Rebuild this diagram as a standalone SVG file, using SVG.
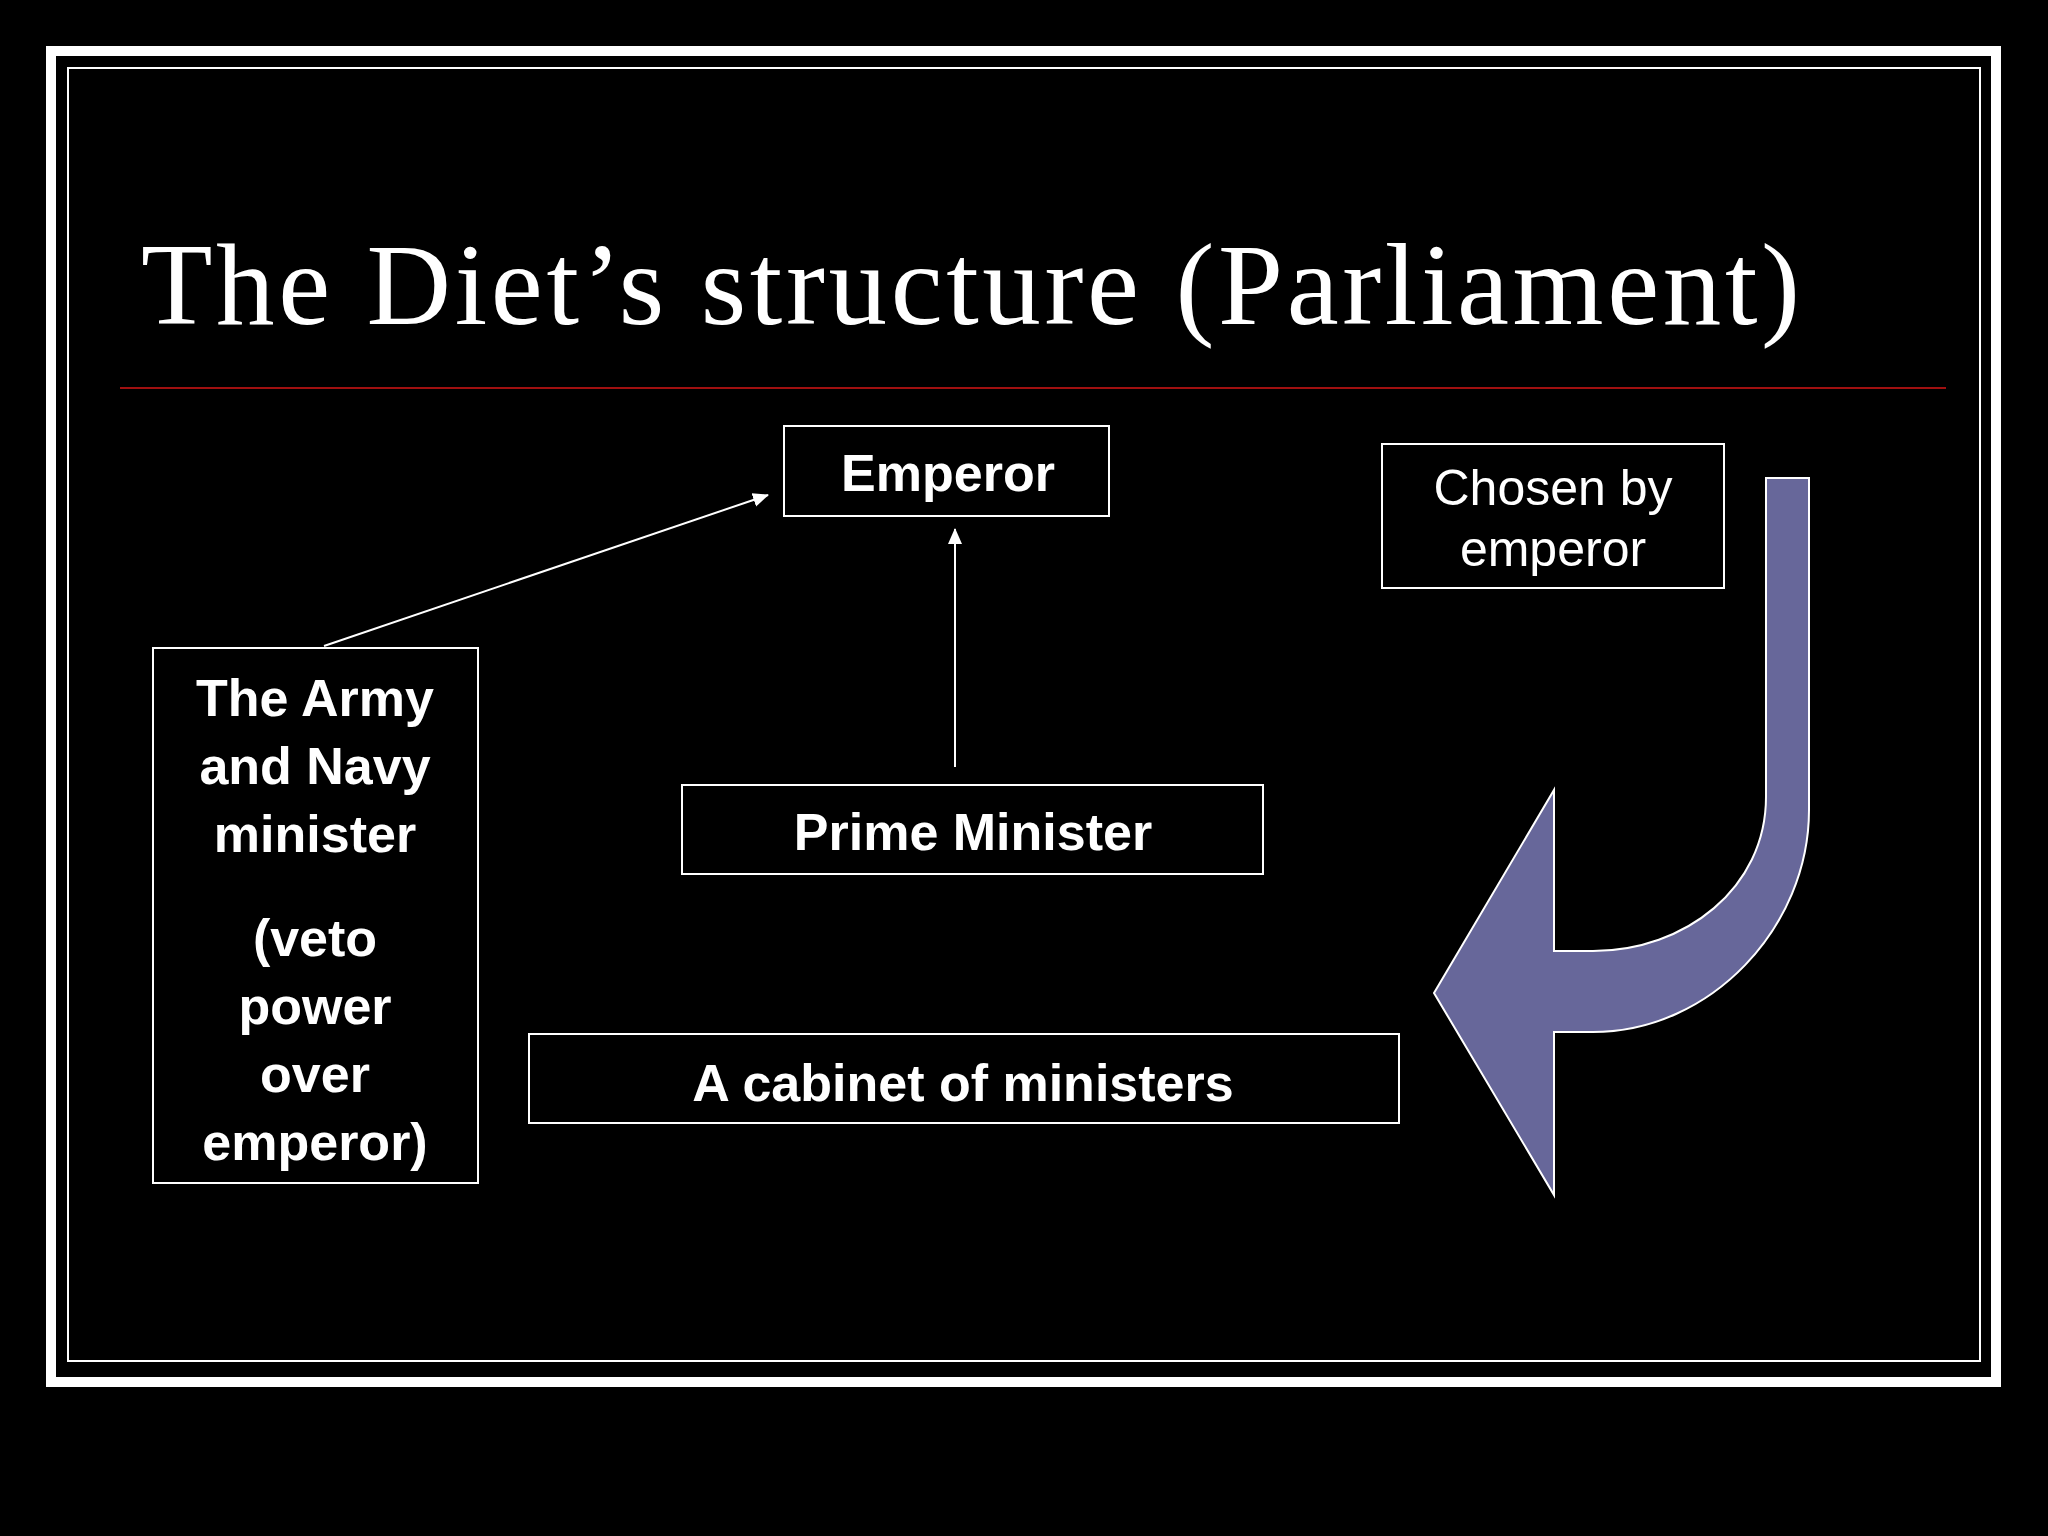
<svg xmlns="http://www.w3.org/2000/svg" width="2048" height="1536" viewBox="0 0 2048 1536">
<style>
.box{fill:none;stroke:#fff;stroke-width:2}
.b{font-family:"Liberation Sans",Arial,sans-serif;font-weight:bold;font-size:52px;fill:#fff;text-anchor:middle}
.r{font-family:"Liberation Sans",Arial,sans-serif;font-size:50px;fill:#fff;text-anchor:middle}
.c{stroke:#fff;stroke-width:2;fill:none;marker-end:url(#ah)}
</style>
<defs><marker id="ah" markerWidth="10" markerHeight="10" refX="9" refY="5" orient="auto" markerUnits="userSpaceOnUse" viewBox="0 0 10 10"><path d="M0,0 L10,5 L0,10 Z" fill="#fff"/></marker>
<marker id="ah2" markerWidth="16" markerHeight="16" refX="15" refY="8" orient="auto" markerUnits="userSpaceOnUse" viewBox="0 0 16 16"><path d="M0,1 L16,8 L0,15 Z" fill="#fff"/></marker></defs>
<rect width="2048" height="1536" fill="#000"/>
<rect x="51" y="51" width="1945" height="1331" fill="none" stroke="#fff" stroke-width="10"/>
<rect x="68" y="68" width="1912" height="1293" fill="none" stroke="#fff" stroke-width="2"/>
<text x="141" y="324" font-family="Liberation Serif,Times New Roman,serif" font-size="117" fill="#fff" textLength="1659">The Diet’s structure (Parliament)</text>
<line x1="120" y1="388" x2="1946" y2="388" stroke="#a01010" stroke-width="2"/>
<g id="connectors">
<line class="c" x1="324" y1="646" x2="768" y2="495" style="marker-end:url(#ah2)"/>
<line class="c" x1="955" y1="767" x2="955" y2="529" style="marker-end:url(#ah2)"/>
<path id="curved-arrow" d="M1766,478 L1809,478 L1809,810 C1809,927 1711,1032 1593,1032 L1554,1032 L1554,1195 L1434,993 L1554,790 L1554,951 L1593,951 C1685,951 1766,888 1766,797 Z" fill="#67679a" stroke="#fff" stroke-width="2"/>
</g>
<g id="emperor"><rect class="box" x="784" y="426" width="325" height="90"/><text class="b" x="948" y="491">Emperor</text></g>
<g id="chosen"><rect class="box" x="1382" y="444" width="342" height="144"/><text class="r" x="1553" y="505">Chosen by</text><text class="r" x="1553" y="566">emperor</text></g>
<g id="army"><rect class="box" x="153" y="648" width="325" height="535"/>
<text class="b" x="315" y="716">The Army</text><text class="b" x="315" y="784">and Navy</text><text class="b" x="315" y="852">minister</text>
<text class="b" x="315" y="956">(veto</text><text class="b" x="315" y="1024">power</text><text class="b" x="315" y="1092">over</text><text class="b" x="315" y="1160">emperor)</text></g>
<g id="pm"><rect class="box" x="682" y="785" width="581" height="89"/><text class="b" x="973" y="850">Prime Minister</text></g>
<g id="cabinet"><rect class="box" x="529" y="1034" width="870" height="89"/><text class="b" x="963" y="1101">A cabinet of ministers</text></g>
</svg>
